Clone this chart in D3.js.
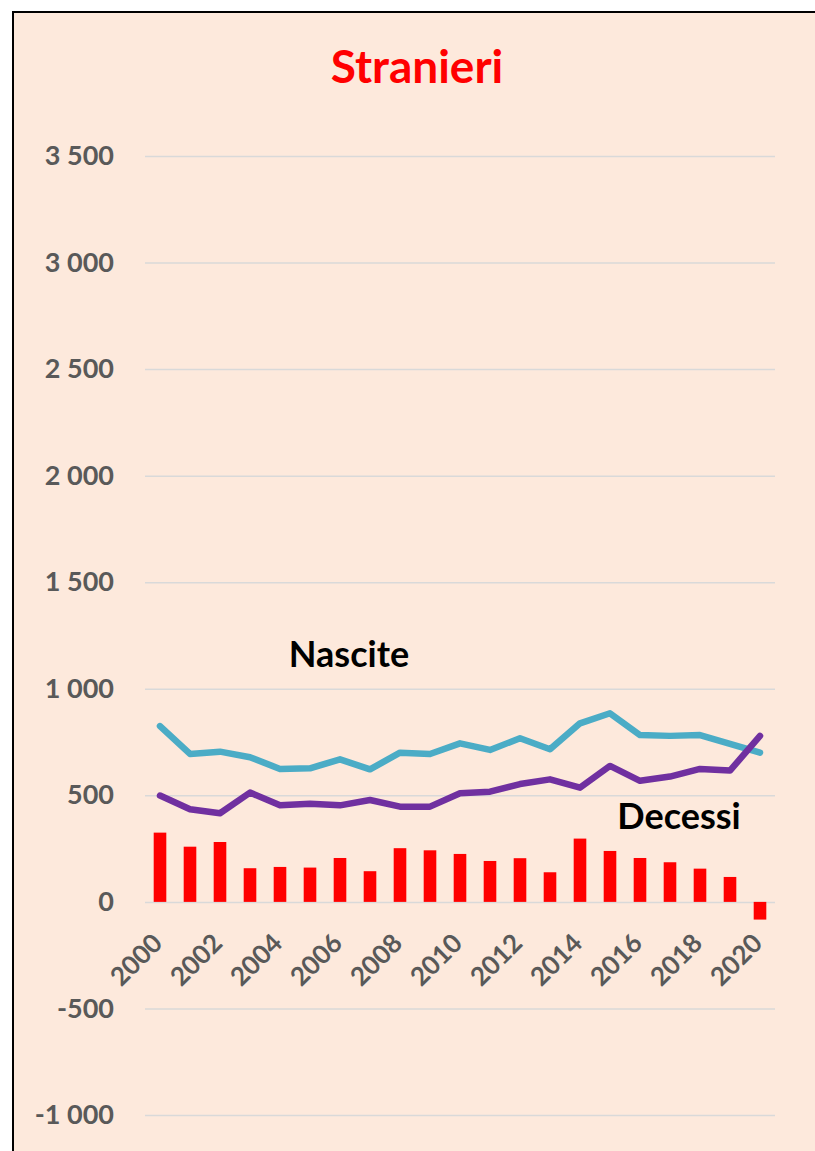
<!DOCTYPE html>
<html>
<head>
<meta charset="utf-8">
<script src="https://cdn.jsdelivr.net/npm/d3@7"></script>
<style>
  body { margin: 0; background: #ffffff; }
</style>
</head>
<body>
<div id="chart"></div>
<script>
// data
var years = d3.range(2000, 2021);
var nascite = [825, 694, 705, 679, 624, 627, 669, 622, 700, 694, 744, 713, 768, 716, 838, 885, 783, 779, 783, 741, 700];
var decessi = [499, 435, 416, 513, 453, 460, 453, 478, 447, 447, 510, 517, 553, 575, 536, 638, 568, 588, 624, 616, 779];
var saldo = [325, 259, 281, 158, 164, 161, 206, 144, 252, 242, 225, 192, 205, 139, 297, 239, 206, 186, 156, 117, -83];
var yTicks = [-1000, -500, 0, 500, 1000, 1500, 2000, 2500, 3000, 3500];

var W = 815, H = 1151;
var font = "Lato, 'Open Sans', sans-serif";

var svg = d3.select("#chart")
    .append("svg")
    .attr("width", W)
    .attr("height", H);

// panel background with frame
svg.append("rect")
    .attr("x", 13)
    .attr("y", 12)
    .attr("width", W + 10)
    .attr("height", H + 10)
    .attr("fill", "#fde9dc")
    .attr("stroke", "#000000")
    .attr("stroke-width", 2);

// title
svg.append("text")
    .attr("x", 417)
    .attr("y", 83)
    .attr("text-anchor", "middle")
    .attr("font-family", font)
    .attr("font-weight", "bold")
    .attr("font-size", 46)
    .attr("fill", "#ff0000")
    .text("Stranieri");

// scales
var x = d3.scaleBand()
    .domain(years)
    .range([145, 775])
    .paddingInner(0.58)
    .paddingOuter(0.29);

var y = d3.scaleLinear()
    .domain([-1000, 3500])
    .range([1115, 156]);

var locale = d3.formatLocale({ decimal: ",", thousands: "\u00a0", grouping: [3], currency: ["", ""], minus: "-" });
var fmt = locale.format(",d");

// gridlines + y labels
var yAxis = svg.append("g")
    .attr("transform", "translate(145,0)")
    .call(d3.axisLeft(y)
        .tickValues(yTicks)
        .tickSize(-630)
        .tickPadding(31)
        .tickFormat(fmt));
yAxis.select(".domain").remove();
yAxis.selectAll(".tick line")
    .attr("stroke", "#d9d9d9")
    .attr("stroke-width", 1.5);
yAxis.selectAll(".tick text")
    .attr("font-family", font)
    .attr("font-weight", "bold")
    .attr("font-size", 27)
    .attr("fill", "#595959");

// bars
svg.append("g")
    .selectAll("rect")
    .data(years)
    .enter()
    .append("rect")
    .attr("x", function (d) { return x(d) })
    .attr("width", x.bandwidth())
    .attr("y", function (d, i) { return y(Math.max(0, saldo[i])) })
    .attr("height", function (d, i) { return Math.abs(y(saldo[i]) - y(0)) })
    .attr("fill", "#ff0000");

// x labels (every other year, rotated)
var xAxis = svg.append("g")
    .attr("transform", "translate(0," + y(0) + ")")
    .call(d3.axisBottom(x)
        .tickValues(years.filter(function (d) { return d % 2 === 0 }))
        .tickSize(0)
        .tickPadding(0));
xAxis.select(".domain").remove();
xAxis.selectAll(".tick text")
    .attr("font-family", font)
    .attr("font-weight", "bold")
    .attr("font-size", 26)
    .attr("fill", "#595959")
    .attr("text-anchor", "end")
    .attr("y", 0)
    .attr("dy", "0")
    .attr("transform", "translate(4,43) rotate(-45)");

// lines
var line = function (vals) {
    return d3.line()
        .x(function (d, i) { return x(years[i]) + x.bandwidth() / 2 })
        .y(function (d) { return y(d) })(vals);
};
svg.append("path")
    .attr("d", line(nascite))
    .attr("fill", "none")
    .attr("stroke", "#4bacc6")
    .attr("stroke-width", 6.5)
    .attr("stroke-linejoin", "round")
    .attr("stroke-linecap", "round");
svg.append("path")
    .attr("d", line(decessi))
    .attr("fill", "none")
    .attr("stroke", "#7030a0")
    .attr("stroke-width", 6.5)
    .attr("stroke-linejoin", "round")
    .attr("stroke-linecap", "round");

// series labels
svg.append("text")
    .attr("x", 349)
    .attr("y", 667)
    .attr("text-anchor", "middle")
    .attr("font-family", font)
    .attr("font-weight", "bold")
    .attr("font-size", 36)
    .attr("fill", "#000000")
    .text("Nascite");
svg.append("text")
    .attr("x", 679)
    .attr("y", 829)
    .attr("text-anchor", "middle")
    .attr("font-family", font)
    .attr("font-weight", "bold")
    .attr("font-size", 36)
    .attr("fill", "#000000")
    .text("Decessi");
</script>
</body>
</html>
